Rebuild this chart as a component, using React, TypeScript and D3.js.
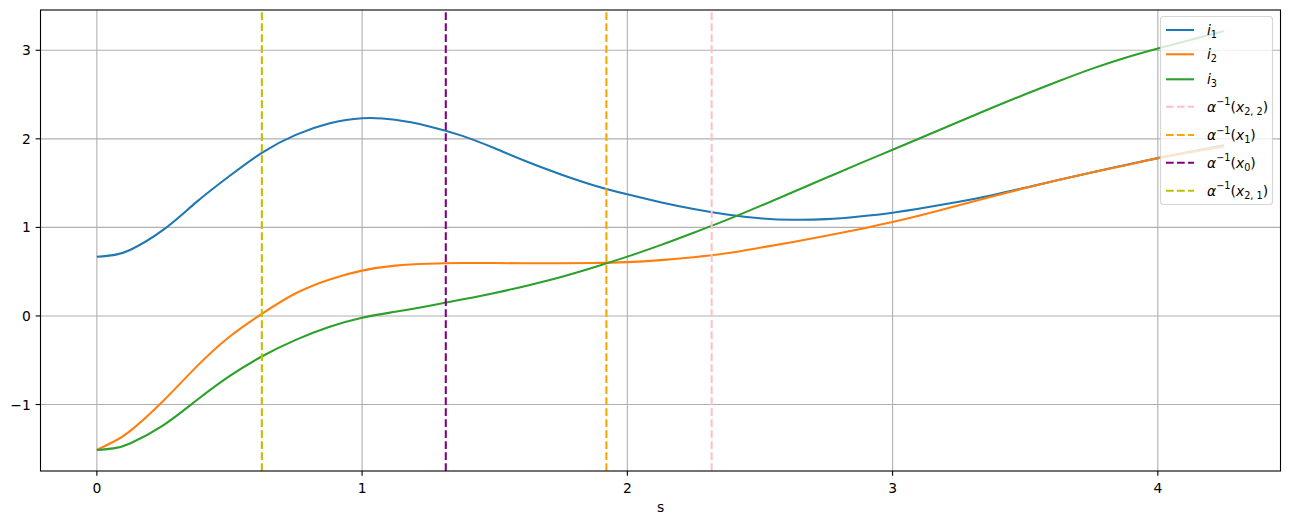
import React from "react";
import * as d3 from "d3";

const sValues = [
  0, 0.0625, 0.125, 0.25, 0.375, 0.5, 0.625, 0.75, 0.875, 1.0, 1.125, 1.25, 1.375, 1.5, 1.625, 1.75, 1.875,
  2.0, 2.125, 2.25, 2.375, 2.5, 2.625, 2.75, 2.875, 3.0, 3.125, 3.25, 3.375, 3.5, 3.625, 3.75, 3.875,
  4.0, 4.125, 4.25,
];

const i1Values = [
  0.668, 0.687, 0.745, 0.972, 1.285, 1.58, 1.848, 2.045, 2.172, 2.232, 2.215, 2.143, 2.036, 1.893, 1.738, 1.598, 1.474,
  1.373, 1.284, 1.207, 1.145, 1.103, 1.086, 1.093, 1.123, 1.166, 1.225, 1.29, 1.364, 1.448, 1.535, 1.621, 1.702,
  1.782, 1.856, 1.926,
];

const i2Values = [
  -1.514, -1.42, -1.3, -0.96, -0.575, -0.235, 0.03, 0.256, 0.41, 0.512, 0.568, 0.59, 0.597, 0.597, 0.595, 0.595, 0.598,
  0.608, 0.63, 0.663, 0.708, 0.77, 0.835, 0.905, 0.98, 1.06, 1.15, 1.25, 1.35, 1.445, 1.535, 1.62, 1.7,
  1.78, 1.85, 1.915,
];

const i3Values = [
  -1.514, -1.495, -1.44, -1.235, -0.955, -0.68, -0.452, -0.27, -0.125, -0.02, 0.047, 0.113, 0.185, 0.26, 0.345, 0.44, 0.55,
  0.67, 0.8, 0.94, 1.085, 1.24, 1.4, 1.56, 1.72, 1.877, 2.035, 2.193, 2.35, 2.503, 2.65, 2.79, 2.913,
  3.02, 3.12, 3.218,
];

const seriesNames = ["1", "2", "3"];
const seriesColors = ["#1f77b4", "#ff7f0e", "#2ca02c"];

// vertical markers, in legend order
const vlineSubs = ["2, 2", "1", "0", "2, 1"];
const vlineValues = [2.318, 1.921, 1.3155, 0.622];
const vlineColors = ["#ffc0cb", "#ffa500", "#800080", "#bfbf00"];

const xTicks = [0, 1, 2, 3, 4];
const yTicks = [-1, 0, 1, 2, 3];
const xLabel = "s";

const W = 1290;
const H = 525;
const FS = 13.89;

export default function App() {
  const x = d3.scaleLinear().domain([-0.2125, 4.4625]).range([40.5, 1280.5]);
  const y = d3.scaleLinear().domain([-1.7506, 3.4546]).range([471, 10]);
  const [x0, x1] = x.range();
  const [yb, yt] = y.range();

  const all = [i1Values, i2Values, i3Values];
  const line = d3
    .line<number>()
    .x((_, i) => x(sValues[i]))
    .y((d) => y(d))
    .curve(d3.curveNatural);

  const fmt = (v: number) => (v < 0 ? "\u2212" + Math.abs(v) : String(v));

  const lw = 2.08;
  const dash = "7.7,3.3";

  // legend layout
  const legX = 1160.5;
  const legY = 16.5;
  const legW = 112;
  const legH = 188;
  const rowsY = [30, 54.3, 79.3, 106.7, 135, 162.7, 190.7];
  const hx0 = 1166;
  const hx1 = 1194;
  const tx = 1207;

  return (
    <svg
      width={W}
      height={H}
      style={{ position: "absolute", left: 0, top: 0, background: "#fff" }}
      fontFamily="DejaVu Sans"
    >
      <rect x={0} y={0} width={W} height={H} fill="#fff" />
      <defs>
        <clipPath id="plotclip">
          <rect x={x0} y={yt} width={x1 - x0} height={yb - yt} />
        </clipPath>
      </defs>
      {/* grid */}
      {xTicks.map((t) => (
        <line key={"gx" + t} x1={x(t)} x2={x(t)} y1={yb} y2={yt} stroke="#b0b0b0" strokeWidth={1.1} />
      ))}
      {yTicks.map((t) => (
        <line key={"gy" + t} x1={x0} x2={x1} y1={y(t)} y2={y(t)} stroke="#b0b0b0" strokeWidth={1.1} />
      ))}
      <g clipPath="url(#plotclip)">
        {all.map((vals, k) => (
          <path key={"s" + k} d={line(vals) || ""} fill="none" stroke={seriesColors[k]} strokeWidth={lw} />
        ))}
        {vlineValues.map((v, k) => (
          <line
            key={"v" + k}
            x1={x(v)}
            x2={x(v)}
            y1={yb}
            y2={yt}
            stroke={vlineColors[k]}
            strokeWidth={lw}
            strokeDasharray={dash}
          />
        ))}
      </g>
      {/* spines */}
      <rect x={x0} y={yt} width={x1 - x0} height={yb - yt} fill="none" stroke="#000" strokeWidth={1.1} />
      {/* ticks */}
      {xTicks.map((t) => (
        <g key={"tx" + t}>
          <line x1={x(t)} x2={x(t)} y1={yb} y2={yb + 4.86} stroke="#000" strokeWidth={1.1} />
          <text x={x(t)} y={493} textAnchor="middle" fontSize={FS} fill="#000">
            {fmt(t)}
          </text>
        </g>
      ))}
      {yTicks.map((t) => (
        <g key={"ty" + t}>
          <line x1={x0 - 4.86} x2={x0} y1={y(t)} y2={y(t)} stroke="#000" strokeWidth={1.1} />
          <text x={x0 - 9.7} y={y(t) + 5} textAnchor="end" fontSize={FS} fill="#000">
            {fmt(t)}
          </text>
        </g>
      ))}
      <text x={(x0 + x1) / 2} y={512} textAnchor="middle" fontSize={FS} fill="#000">
        {xLabel}
      </text>
      {/* legend */}
      <rect
        x={legX}
        y={legY}
        width={legW}
        height={legH}
        rx={3}
        fill="#fff"
        fillOpacity={0.8}
        stroke="#cccccc"
        strokeOpacity={0.8}
        strokeWidth={1.1}
      />
      {seriesNames.map((n, k) => (
        <g key={"l" + k}>
          <line x1={hx0} x2={hx1} y1={rowsY[k]} y2={rowsY[k]} stroke={seriesColors[k]} strokeWidth={lw} />
          <text x={tx} y={rowsY[k] + 4.5} fontSize={FS} fill="#000">
            <tspan fontStyle="italic">i</tspan>
            <tspan fontSize={FS * 0.7} dy={3}>
              {n}
            </tspan>
          </text>
        </g>
      ))}
      {vlineSubs.map((sub, k) => {
        const ry = rowsY[k + 3];
        return (
          <g key={"lv" + k}>
            <line
              x1={hx0}
              x2={hx1}
              y1={ry}
              y2={ry}
              stroke={vlineColors[k]}
              strokeWidth={lw}
              strokeDasharray={dash}
            />
            <text x={tx} y={ry + 5} fontSize={FS} fill="#000">
              <tspan fontStyle="italic">α</tspan>
              <tspan fontSize={FS * 0.7} dy={-6.5}>
                {"\u22121"}
              </tspan>
              <tspan dy={6.5}>(</tspan>
              <tspan fontStyle="italic">x</tspan>
              <tspan fontSize={FS * 0.7} dy={3}>
                {sub}
              </tspan>
              <tspan dy={-3}>)</tspan>
            </text>
          </g>
        );
      })}
    </svg>
  );
}
